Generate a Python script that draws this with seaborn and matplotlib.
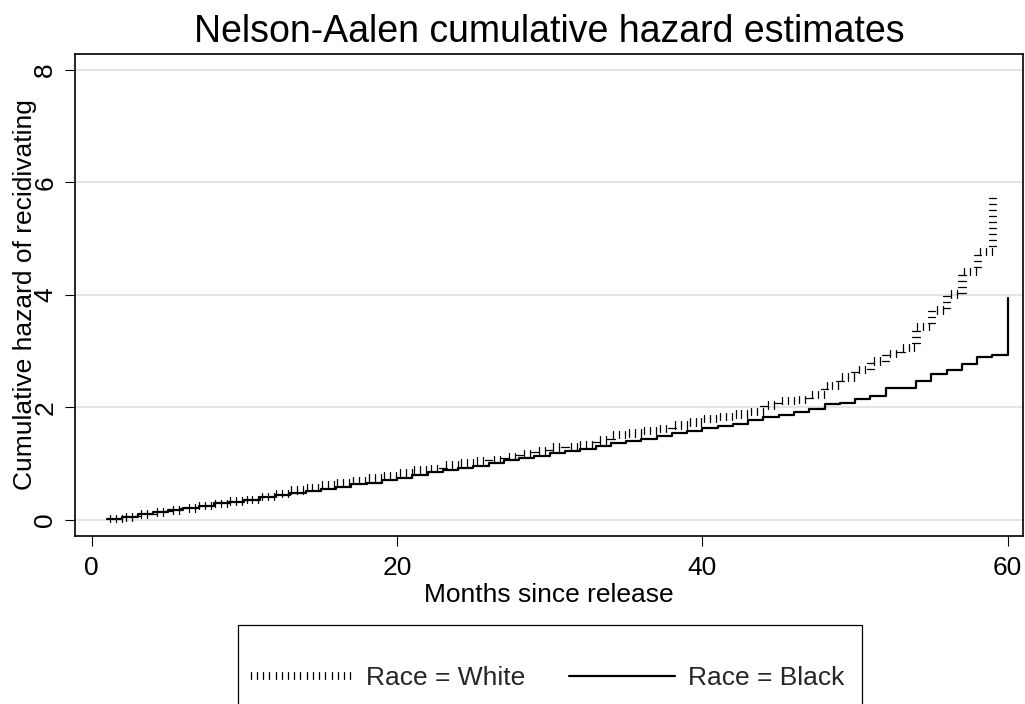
import matplotlib
matplotlib.use("Agg")
import numpy as np
import pandas as pd
import matplotlib.pyplot as plt
import seaborn as sns
from matplotlib.patches import Rectangle
from matplotlib.patheffects import TickedStroke

# ----------------------------
# DATA
# ----------------------------
months_white = list(range(1, 60))
hazard_white = [0.02, 0.05, 0.10, 0.14, 0.17, 0.21, 0.25, 0.29, 0.33, 0.36,
                0.41, 0.47, 0.53, 0.57, 0.62, 0.66, 0.70, 0.74, 0.78, 0.83,
                0.89, 0.91, 0.97, 1.01, 1.05, 1.07, 1.12, 1.18, 1.23, 1.29,
                1.30, 1.34, 1.42, 1.51, 1.54, 1.59, 1.62, 1.68, 1.74, 1.80,
                1.84, 1.88, 1.92, 2.04, 2.12, 2.14, 2.23, 2.39, 2.54, 2.67,
                2.82, 2.96, 3.06, 3.44, 3.73, 4.01, 4.41, 4.77, 5.77]

months_black = list(range(1, 61))
hazard_black = [0.016, 0.05, 0.10, 0.14, 0.17, 0.21, 0.25, 0.29, 0.32, 0.35,
                0.40, 0.44, 0.48, 0.51, 0.54, 0.59, 0.63, 0.66, 0.70, 0.75,
                0.79, 0.84, 0.88, 0.92, 0.95, 1.01, 1.06, 1.10, 1.14, 1.18,
                1.22, 1.26, 1.31, 1.36, 1.40, 1.44, 1.49, 1.54, 1.58, 1.63,
                1.67, 1.71, 1.77, 1.82, 1.86, 1.92, 1.97, 2.05, 2.07, 2.15,
                2.20, 2.34, 2.35, 2.47, 2.59, 2.67, 2.77, 2.89, 2.93, 3.94]

x_ticks = [0, 20, 40, 60]
y_ticks = [0, 2, 4, 6, 8]

TITLE = "Nelson-Aalen cumulative hazard estimates"
X_LABEL = "Months since release"
Y_LABEL = "Cumulative hazard of recidivating"
LABEL_WHITE = "Race = White"
LABEL_BLACK = "Race = Black"

# ----------------------------
# STYLE
# ----------------------------
sns.set_theme(style="ticks")
plt.rcParams["font.family"] = ["Liberation Sans", "DejaVu Sans"]

df_white = pd.DataFrame({"month": months_white, "hazard": hazard_white})
df_black = pd.DataFrame({"month": months_black, "hazard": hazard_black})

fig = plt.figure(figsize=(10.25, 7.04), dpi=100)
ax = fig.add_axes([75 / 1025, 1 - 536 / 704, 948 / 1025, 482 / 704])

# white series: tick-like short dashes along the step path
sns.lineplot(data=df_white, x="month", y="hazard", ax=ax, color="black",
             drawstyle="steps-post", errorbar=None, label=LABEL_WHITE)
white_line = ax.lines[-1]
white_line.set_path_effects([
    TickedStroke(spacing=4.3, angle=90, length=0.62, linewidth=0.9),
    TickedStroke(spacing=4.3, angle=-90, length=0.62, linewidth=0.9),
])

# black series: solid step line
sns.lineplot(data=df_black, x="month", y="hazard", ax=ax, color="black",
             drawstyle="steps-post", errorbar=None, linewidth=1.6,
             label=LABEL_BLACK)

ax.set_xlim(-1.1, 61.0)
ax.set_ylim(-0.29, 8.28)
ax.set_xticks(x_ticks)
ax.set_yticks(y_ticks)
ax.yaxis.grid(True, color="#dcdcdc", linewidth=1.1)
ax.xaxis.grid(False)
ax.set_axisbelow(True)

for side in ["left", "right", "top", "bottom"]:
    ax.spines[side].set_visible(True)
    ax.spines[side].set_color("black")
    ax.spines[side].set_linewidth(1.2)

ax.tick_params(axis="both", direction="out", length=7.2, width=0.8,
               color="black", labelsize=19, labelcolor="black")
ax.tick_params(axis="x", pad=7.5)
ax.tick_params(axis="y", pad=5.5, labelrotation=90)
for lab in ax.get_yticklabels():
    lab.set_verticalalignment("center")

ax.set_title(TITLE, fontsize=27, color="black", pad=8.6)
ax.set_xlabel(X_LABEL, fontsize=19, color="black")
ax.set_ylabel(Y_LABEL, fontsize=19, color="black")
ax.xaxis.set_label_coords(0.5, -0.097)
ax.yaxis.set_label_coords(-0.040, 0.5)

# legend below the plot, in a box cut by the figure edge
handles, labels = ax.get_legend_handles_labels()
ax.legend_.remove()
fig.legend(handles, labels, loc="center", ncol=2,
           bbox_to_anchor=(546 / 1025, 1 - 678 / 704), frameon=False,
           fontsize=19, handlelength=4.0, handletextpad=0.5,
           columnspacing=1.65)
fig.patches.append(Rectangle((238 / 1025, -0.1), (862 - 238) / 1025,
                             (704 - 625) / 704 + 0.1, transform=fig.transFigure,
                             fill=False, edgecolor="black", linewidth=0.9))

fig.savefig("out.png", dpi=100)
